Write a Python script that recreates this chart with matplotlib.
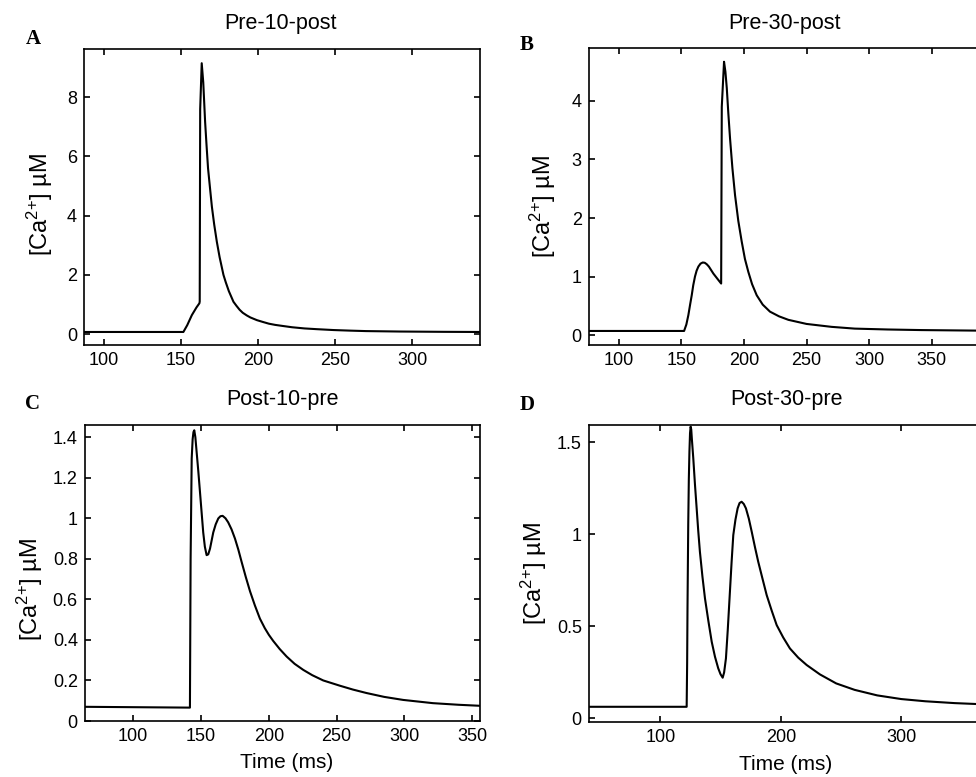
import matplotlib
matplotlib.use("Agg")
import matplotlib.pyplot as plt

# time (ms) and [Ca2+] (uM)
pre10_t = [87, 151.5, 154, 157, 160, 161.9, 162.1, 162.4, 163.4, 164.4, 165.6, 166.5, 167.5, 168.8,
           170, 171.5, 173.2, 175, 177.5, 179, 181, 184, 186, 188, 190, 192.6, 195, 199.2, 203,
           207, 211, 216.4, 222, 230, 238, 249, 260, 270, 292, 320, 344]
pre10_ca = [0.07, 0.07, 0.3, 0.64, 0.9, 1.04, 1.1, 7.6, 9.15, 8.5, 7.17, 6.4, 5.6, 4.92,
            4.3, 3.7, 3.12, 2.6, 2.0, 1.75, 1.45, 1.09, 0.95, 0.82, 0.72, 0.63, 0.56, 0.47, 0.41,
            0.35, 0.31, 0.27, 0.23, 0.19, 0.165, 0.135, 0.115, 0.1, 0.085, 0.075, 0.07]

pre30_t = [76, 152.2, 154, 155.6, 157, 158.3, 159.5, 160.9, 162.2, 163.6, 165.3, 167.1, 168.7, 170.3,
           172, 173.5, 175.6, 178.5, 181.8, 182.3, 184.1, 185.2, 186.3, 187.5, 188.9, 190.8, 192.9,
           195.5, 198.2, 200.8, 203.5, 206.5, 210.2, 215, 220.8, 228, 235.5, 250, 270, 288.5, 315,
           341.7, 390]
pre30_ca = [0.07, 0.07, 0.18, 0.34, 0.52, 0.68, 0.85, 1.0, 1.1, 1.17, 1.22, 1.24, 1.235, 1.21,
            1.17, 1.12, 1.05, 0.97, 0.88, 3.9, 4.67, 4.5, 4.22, 3.8, 3.36, 2.85, 2.39,
            1.95, 1.6, 1.3, 1.08, 0.87, 0.68, 0.52, 0.4, 0.32, 0.26, 0.19, 0.14, 0.11, 0.095,
            0.085, 0.075]

post10_t = [64.2, 141.8, 142.3, 143.1, 143.8, 144.4, 145, 145.8, 146.7, 148, 149.2, 150.4, 151.6,
            152.8, 154.1, 155.3, 156.6, 157.8, 159, 160.8, 162.7, 164.3, 165.9, 168, 170, 172.5, 175,
            177.5, 179.9, 183, 186.1, 189.7, 193.4, 197, 200, 203.2, 208, 213.1, 219, 225.4, 232,
            240.1, 252.4, 262, 272, 285, 299, 321, 340, 355.7]
post10_ca = [0.07, 0.066, 0.8, 1.295, 1.39, 1.425, 1.434, 1.4, 1.33, 1.23, 1.13, 1.03, 0.93,
             0.86, 0.818, 0.822, 0.85, 0.89, 0.93, 0.97, 0.999, 1.01, 1.012, 1.0, 0.98, 0.945, 0.90,
             0.845, 0.785, 0.71, 0.64, 0.57, 0.505, 0.458, 0.425, 0.395, 0.355, 0.318, 0.282, 0.252, 0.226,
             0.2, 0.174, 0.155, 0.138, 0.119, 0.104, 0.088, 0.08, 0.075]

post30_t = [40.6, 121.9, 122.3, 122.6, 123.2, 123.7, 124.2, 124.7, 125.2, 125.7, 126.2, 127.4, 128.8,
            130.2, 131.5, 132.9, 135, 137.1, 139.9, 142.7, 145.4, 148.1, 150, 151.8, 153, 154.5, 156,
            157.8, 159.2, 160.6, 162.4, 164.2, 165.8, 167.5, 169.3, 171.1, 173.5, 175.9, 178.6, 181.3,
            184.8, 188.3, 192.5, 196.6, 202, 207.6, 214.5, 221.5, 232.5, 246, 261.3, 280, 300, 320,
            344.3, 370]
post30_ca = [0.063, 0.063, 0.3, 0.6, 1.05, 1.3, 1.45, 1.55, 1.585, 1.57, 1.52, 1.413, 1.27,
             1.141, 1.02, 0.905, 0.77, 0.652, 0.53, 0.416, 0.335, 0.272, 0.24, 0.221, 0.25, 0.326, 0.48,
             0.688, 0.85, 0.996, 1.08, 1.141, 1.17, 1.177, 1.165, 1.141, 1.085, 1.014, 0.93, 0.851,
             0.76, 0.67, 0.585, 0.507, 0.44, 0.38, 0.33, 0.29, 0.239, 0.19, 0.155, 0.125, 0.105, 0.093,
             0.083, 0.076]

titles = ["Pre-10-post", "Pre-30-post", "Post-10-pre", "Post-30-pre"]
letters = ["A", "B", "C", "D"]

plt.rcParams['font.family'] = ['Liberation Sans', 'DejaVu Sans']
plt.rcParams['mathtext.fontset'] = 'custom'
plt.rcParams['mathtext.rm'] = 'Liberation Sans'
plt.rcParams['mathtext.it'] = 'Liberation Sans'

W, H = 976, 777
fig = plt.figure(figsize=(W / 100, H / 100), dpi=100)

def px_axes(left, top, right, bottom):
    return fig.add_axes([left / W, 1 - bottom / H, (right - left) / W, (bottom - top) / H])

axA = px_axes(84, 49, 480, 345)
axB = px_axes(588.7, 48.3, 981.8, 345)
axC = px_axes(84.7, 425, 480, 721)
axD = px_axes(588.7, 425, 985.6, 721.7)

axA.plot(pre10_t, pre10_ca, color='black', lw=1.5)
axA.set_xlim(87, 344)
axA.set_ylim(-0.37, 9.63)
axA.set_xticks([100, 150, 200, 250, 300])
axA.set_yticks([0, 2, 4, 6, 8])

axB.plot(pre30_t, pre30_ca, color='black', lw=1.5)
axB.set_xlim(76, 390)
axB.set_ylim(-0.17, 4.9)
axB.set_xticks([100, 150, 200, 250, 300, 350])
axB.set_yticks([0, 1, 2, 3, 4])

axC.plot(post10_t, post10_ca, color='black', lw=1.5)
axC.set_xlim(64.2, 355.7)
axC.set_ylim(0, 1.46)
axC.set_xticks([100, 150, 200, 250, 300, 350])
axC.set_yticks([0, 0.2, 0.4, 0.6, 0.8, 1, 1.2, 1.4])
axC.set_yticklabels(["0", "0.2", "0.4", "0.6", "0.8", "1", "1.2", "1.4"])

axD.plot(post30_t, post30_ca, color='black', lw=1.5)
axD.set_xlim(40.6, 370)
axD.set_ylim(-0.018, 1.594)
axD.set_xticks([100, 200, 300])
axD.set_yticks([0, 0.5, 1, 1.5])
axD.set_yticklabels(["0", "0.5", "1", "1.5"])

for ax in [axA, axB, axC, axD]:
    ax.tick_params(direction='in', top=True, right=True, length=4, width=1.2,
                   labelsize=13, pad=5)
    for s in ax.spines.values():
        s.set_linewidth(1.2)

def ftext(x, y, s, **kw):
    fig.text(x / W, 1 - y / H, s, ha='center', va='center', **kw)

ylab = r"[Ca$^{2{+}}$] µM"
ftext(281, 23, titles[0], fontsize=15.5)
ftext(785, 23, titles[1], fontsize=15.5)
ftext(282, 400, titles[2], fontsize=15.5)
ftext(786, 400, titles[3], fontsize=15.5)

ftext(40, 205, ylab, fontsize=17, rotation=90)
ftext(543, 207, ylab, fontsize=17, rotation=90)
ftext(30, 590, ylab, fontsize=17, rotation=90)
ftext(534, 574, ylab, fontsize=17, rotation=90)

ftext(287, 762, "Time (ms)", fontsize=15)
ftext(786, 765, "Time (ms)", fontsize=15)

for (x, y), s in zip([(33, 39), (527, 45), (33, 404), (527, 405)], letters):
    ftext(x, y, s, fontsize=15, fontweight='bold', family='Liberation Serif')

fig.savefig("out.png", dpi=100)
